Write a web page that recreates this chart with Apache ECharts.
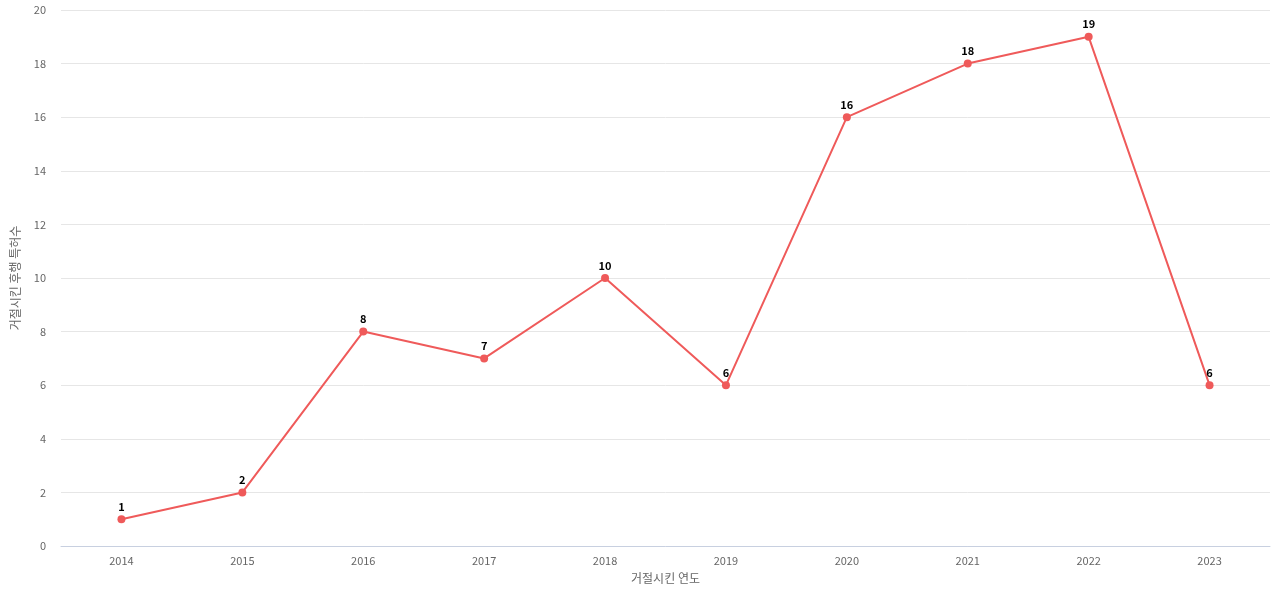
<!DOCTYPE html>
<html>
<head>
<meta charset="utf-8">
<script src="https://cdn.jsdelivr.net/npm/echarts@6/dist/echarts.min.js"></script>
<style>html,body{margin:0;padding:0}#chart{width:1280px;height:600px}</style>
</head>
<body>
<div id="chart"></div>
<script>
const years = ["2014", "2015", "2016", "2017", "2018", "2019", "2020", "2021", "2022", "2023"];
const counts = [1, 2, 8, 7, 10, 6, 16, 18, 19, 6];

const chart = echarts.init(document.getElementById("chart"));
chart.setOption({
    animation: false,
    textStyle: { fontFamily: "Noto Sans CJK KR, sans-serif" },
    grid: { left: 61, right: 10, top: 10, bottom: 54 },
    xAxis: {
        type: "category",
        data: years,
        name: "거절시킨 연도",
        nameLocation: "middle",
        nameGap: 26,
        nameTextStyle: { color: "#666", fontSize: 12 },
        axisTick: { show: false },
        axisLine: { lineStyle: { color: "#c8d0e0" } },
        axisLabel: { color: "#666", fontSize: 11, margin: 9 }
    },
    yAxis: {
        type: "value",
        min: 0,
        max: 20,
        interval: 2,
        name: "거절시킨 후행 특허수",
        nameLocation: "middle",
        nameGap: 40,
        nameTextStyle: { color: "#666", fontSize: 12 },
        axisLabel: { color: "#666", fontSize: 11, margin: 15 },
        splitLine: { lineStyle: { color: "#e6e6e6" } }
    },
    series: [{
        type: "line",
        data: counts,
        symbol: "circle",
        symbolSize: 8,
        itemStyle: { color: "#ef5a5a" },
        lineStyle: { color: "#ef5a5a", width: 2 },
        label: { show: true, position: "top", color: "#000", fontWeight: "bold", fontSize: 11, distance: 3 }
    }]
});
</script>
</body>
</html>
